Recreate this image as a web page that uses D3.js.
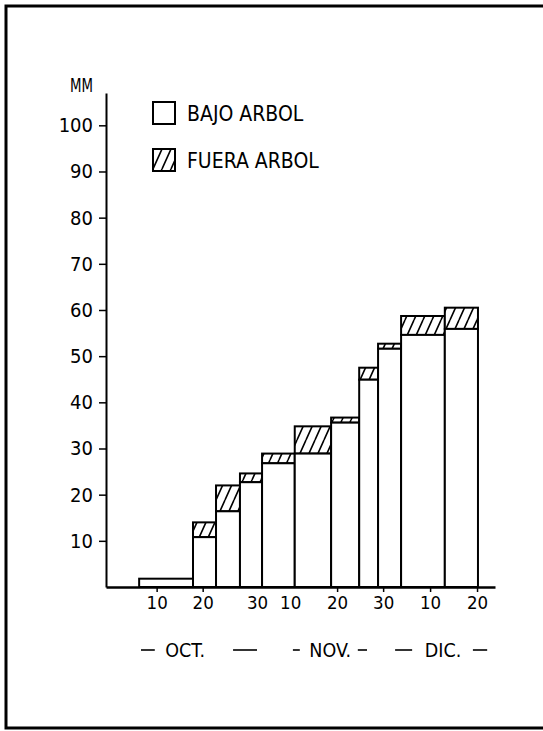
<!DOCTYPE html>
<html>
<head>
<meta charset="utf-8">
<script src="https://cdn.jsdelivr.net/npm/d3@7"></script>
<style>
  body { margin: 0; background: #fff; }
  text { font-family: "DejaVu Sans Condensed", "DejaVu Sans", sans-serif; font-stretch: condensed; fill: #000; }
</style>
</head>
<body>
<script>
// bins along the season (days from Oct 1)
const binStart = [6.2, 17.9, 22.9, 28.1, 32.9, 40.0, 47.9, 54.0, 58.1, 63.1, 72.6];
const binEnd   = [17.9, 22.9, 28.1, 32.9, 40.0, 47.9, 54.0, 58.1, 63.1, 72.6, 79.8];

// MM, under the tree and outside the tree (total height of the bar)
const bajoArbol  = [1.8, 10.8, 16.4, 22.7, 26.8, 28.9, 35.6, 44.9, 51.6, 54.6, 55.9];
const fueraArbol = [1.8, 14.0, 22.0, 24.6, 28.9, 34.8, 36.7, 47.5, 52.7, 58.7, 60.5];

// x tick labels
const dayTicks  = [10, 20, 31.8, 39, 49.2, 59.2, 69.4, 79.6];
const dayLabels = ["10", "20", "30", "10", "20", "30", "10", "20"];
const dayMarked = [true, true, false, false, true, true, true, true];

// month labels with their dashes
const months     = ["OCT.", "NOV.", "DIC."];
const monthMid   = [16.2, 47.7, 72.2];
const monthDashL = [[6.6, 9.6], [39.6, 41.1], [61.8, 65.5]];
const monthDashR = [[26.6, 31.8], [53.7, 55.7], [78.7, 81.8]];

const yTicks = [10, 20, 30, 40, 50, 60, 70, 80, 90, 100];

const width = 543, height = 731;

const svg = d3.select("body").append("svg")
    .attr("width", width)
    .attr("height", height);

// frame (right side runs off the page)
svg.append("path")
    .attr("d", "M543,6 L6,6 L6,728 L543,728")
    .attr("fill", "none")
    .attr("stroke", "#000")
    .attr("stroke-width", 3);

const x = d3.scaleLinear().domain([-1, 83.5]).range([106, 495]);
const y = d3.scaleLinear().domain([0, 107]).range([587, 93]);

// hatch pattern
const defs = svg.append("defs");
const pat = defs.append("pattern")
    .attr("id", "hatch")
    .attr("patternUnits", "userSpaceOnUse")
    .attr("width", 9)
    .attr("height", 20);
pat.append("rect").attr("width", 9).attr("height", 20).attr("fill", "#fff");
pat.append("path")
    .attr("d", "M0,20 L9,0 M-9,20 L0,0 M9,20 L18,0")
    .attr("stroke", "#000")
    .attr("stroke-width", 1.6);

const bins = binStart.map((s, i) => ({ s: s, e: binEnd[i], lo: bajoArbol[i], hi: fueraArbol[i] }));

// hatched upper part
svg.selectAll(".fuera")
    .data(bins.filter(d => d.hi > d.lo))
    .enter()
    .append("rect")
    .attr("class", "fuera")
    .attr("x", d => x(d.s))
    .attr("y", d => y(d.hi))
    .attr("width", d => x(d.e) - x(d.s))
    .attr("height", d => y(d.lo) - y(d.hi))
    .attr("fill", "url(#hatch)")
    .attr("stroke", "#000")
    .attr("stroke-width", 2);

// white lower part
svg.selectAll(".bajo")
    .data(bins)
    .enter()
    .append("rect")
    .attr("class", "bajo")
    .attr("x", d => x(d.s))
    .attr("y", d => y(d.lo))
    .attr("width", d => x(d.e) - x(d.s))
    .attr("height", d => y(0) - y(d.lo))
    .attr("fill", "#fff")
    .attr("stroke", "#000")
    .attr("stroke-width", 2);

// y axis
const yAxis = svg.append("g")
    .attr("transform", "translate(" + x(-1) + ",0)")
    .call(d3.axisLeft(y).tickValues(yTicks).tickSize(7).tickSizeOuter(0).tickPadding(6));
yAxis.select(".domain").attr("stroke-width", 2);
yAxis.selectAll(".tick line").attr("stroke-width", 1.5);
yAxis.selectAll("text").style("font-size", "20px").attr("fill", "#000");

svg.append("text")
    .attr("x", 70)
    .attr("y", 92)
    .attr("textLength", 23)
    .attr("lengthAdjust", "spacingAndGlyphs")
    .style("font-size", "19px")
    .text("MM");

// x axis
const xAxis = svg.append("g")
    .attr("transform", "translate(0," + y(0) + ")")
    .call(d3.axisBottom(x).tickValues(dayTicks).tickFormat((d, i) => dayLabels[i]).tickSize(5).tickSizeOuter(0));
xAxis.select(".domain").attr("stroke-width", 2.5);
xAxis.selectAll(".tick line")
    .attr("stroke-width", 1.5)
    .attr("opacity", (d, i) => dayMarked[i] ? 1 : 0);
xAxis.selectAll("text")
    .attr("y", 22)
    .attr("dy", 0)
    .style("font-size", "18.5px")
    .attr("fill", "#000");

// month labels
months.forEach((m, i) => {
    svg.append("text")
        .attr("x", x(monthMid[i]))
        .attr("y", 657)
        .attr("text-anchor", "middle")
        .style("font-size", "19.5px")
        .text(m);
    [monthDashL[i], monthDashR[i]].forEach(dash => {
        svg.append("line")
            .attr("x1", x(dash[0]))
            .attr("x2", x(dash[1]))
            .attr("y1", 650)
            .attr("y2", 650)
            .attr("stroke", "#000")
            .attr("stroke-width", 1.6);
    });
});

// legend
const legendNames = ["BAJO ARBOL", "FUERA ARBOL"];
const legendFill = ["#fff", "url(#hatch)"];
const legend = svg.selectAll(".legend")
    .data(legendNames)
    .enter()
    .append("g")
    .attr("class", "legend")
    .attr("transform", (d, i) => "translate(153," + (102 + i * 47) + ")");
legend.append("rect")
    .attr("width", 22)
    .attr("height", 22)
    .attr("fill", (d, i) => legendFill[i])
    .attr("stroke", "#000")
    .attr("stroke-width", 2);
legend.append("text")
    .attr("x", 34)
    .attr("y", 19)
    .style("font-size", "21px")
    .text(d => d);
</script>
</body>
</html>
